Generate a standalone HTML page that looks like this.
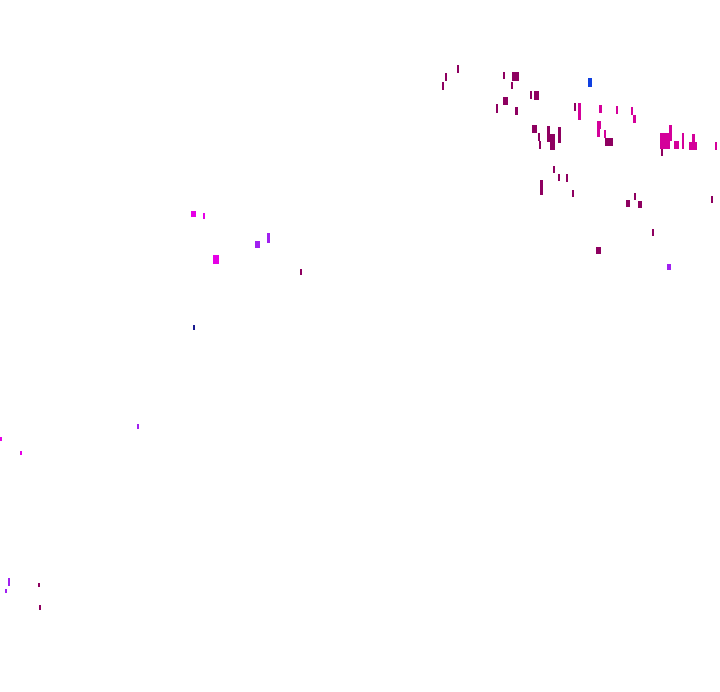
<!DOCTYPE html>
<html><head><meta charset="utf-8"><style>
html,body{margin:0;padding:0;background:#fff;width:720px;height:692px;overflow:hidden;position:relative}
i{position:absolute;display:block}
.d{background:#8e0060}.p{background:#d4009a}.m{background:#e600e6}.v{background:#a020f0}
</style></head><body>
<i class="d" style="left:457px;top:65px;width:2px;height:8px"></i>
<i class="d" style="left:445px;top:73px;width:2px;height:8px"></i>
<i class="d" style="left:442px;top:82px;width:2px;height:8px"></i>
<i class="d" style="left:503px;top:72px;width:2px;height:7px"></i>
<i class="d" style="left:512px;top:72px;width:7px;height:9px"></i>
<i class="d" style="left:511px;top:82px;width:2px;height:7px"></i>
<i style="left:588px;top:78px;width:4px;height:9px;background:#1040e0"></i>
<i class="d" style="left:530px;top:91px;width:2px;height:8px"></i>
<i class="d" style="left:534px;top:91px;width:5px;height:9px"></i>
<i class="d" style="left:503px;top:97px;width:5px;height:8px"></i>
<i class="d" style="left:496px;top:104px;width:2px;height:9px"></i>
<i class="d" style="left:515px;top:107px;width:3px;height:8px"></i>
<i class="d" style="left:574px;top:103px;width:2px;height:8px"></i>
<i class="p" style="left:578px;top:103px;width:3px;height:17px"></i>
<i class="p" style="left:599px;top:105px;width:3px;height:8px"></i>
<i class="p" style="left:616px;top:106px;width:2px;height:8px"></i>
<i class="p" style="left:631px;top:107px;width:2px;height:8px"></i>
<i class="p" style="left:633px;top:115px;width:3px;height:8px"></i>
<i class="d" style="left:532px;top:125px;width:5px;height:8px"></i>
<i class="d" style="left:538px;top:133px;width:2px;height:8px"></i>
<i class="d" style="left:539px;top:141px;width:2px;height:8px"></i>
<i class="d" style="left:547px;top:126px;width:3px;height:16px"></i>
<i class="d" style="left:550px;top:134px;width:5px;height:16px"></i>
<i class="d" style="left:558px;top:127px;width:3px;height:16px"></i>
<i class="p" style="left:597px;top:121px;width:4px;height:8px"></i>
<i class="p" style="left:597px;top:129px;width:3px;height:8px"></i>
<i class="p" style="left:604px;top:130px;width:2px;height:8px"></i>
<i class="d" style="left:605px;top:138px;width:8px;height:8px"></i>
<i class="p" style="left:660px;top:133px;width:10px;height:16px"></i>
<i class="d" style="left:661px;top:149px;width:2px;height:7px"></i>
<i class="p" style="left:669px;top:125px;width:3px;height:16px"></i>
<i class="p" style="left:674px;top:141px;width:5px;height:8px"></i>
<i class="p" style="left:682px;top:133px;width:2px;height:16px"></i>
<i class="p" style="left:689px;top:142px;width:8px;height:8px"></i>
<i class="p" style="left:692px;top:134px;width:3px;height:8px"></i>
<i class="p" style="left:715px;top:142px;width:2px;height:8px"></i>
<i class="d" style="left:553px;top:166px;width:2px;height:7px"></i>
<i class="d" style="left:558px;top:174px;width:2px;height:7px"></i>
<i class="d" style="left:566px;top:174px;width:2px;height:8px"></i>
<i class="d" style="left:540px;top:180px;width:3px;height:15px"></i>
<i class="d" style="left:572px;top:190px;width:2px;height:7px"></i>
<i class="d" style="left:626px;top:200px;width:4px;height:7px"></i>
<i class="d" style="left:638px;top:201px;width:4px;height:7px"></i>
<i class="d" style="left:634px;top:193px;width:2px;height:7px"></i>
<i class="d" style="left:711px;top:196px;width:2px;height:7px"></i>
<i class="d" style="left:652px;top:229px;width:2px;height:7px"></i>
<i class="d" style="left:596px;top:247px;width:5px;height:7px"></i>
<i class="v" style="left:667px;top:264px;width:4px;height:6px"></i>
<i class="m" style="left:191px;top:211px;width:5px;height:6px"></i>
<i class="m" style="left:203px;top:213px;width:2px;height:6px"></i>
<i class="m" style="left:213px;top:255px;width:6px;height:9px"></i>
<i class="v" style="left:255px;top:241px;width:5px;height:7px"></i>
<i class="v" style="left:267px;top:233px;width:3px;height:10px"></i>
<i class="d" style="left:300px;top:269px;width:2px;height:6px"></i>
<i style="left:193px;top:325px;width:2px;height:5px;background:#1a1a90"></i>
<i class="v" style="left:137px;top:424px;width:2px;height:5px"></i>
<i class="m" style="left:0px;top:437px;width:2px;height:4px"></i>
<i class="m" style="left:20px;top:451px;width:2px;height:4px"></i>
<i class="v" style="left:8px;top:578px;width:2px;height:8px"></i>
<i class="v" style="left:5px;top:589px;width:2px;height:4px"></i>
<i class="d" style="left:38px;top:583px;width:2px;height:4px"></i>
<i class="d" style="left:39px;top:605px;width:2px;height:5px"></i>
</body></html>
